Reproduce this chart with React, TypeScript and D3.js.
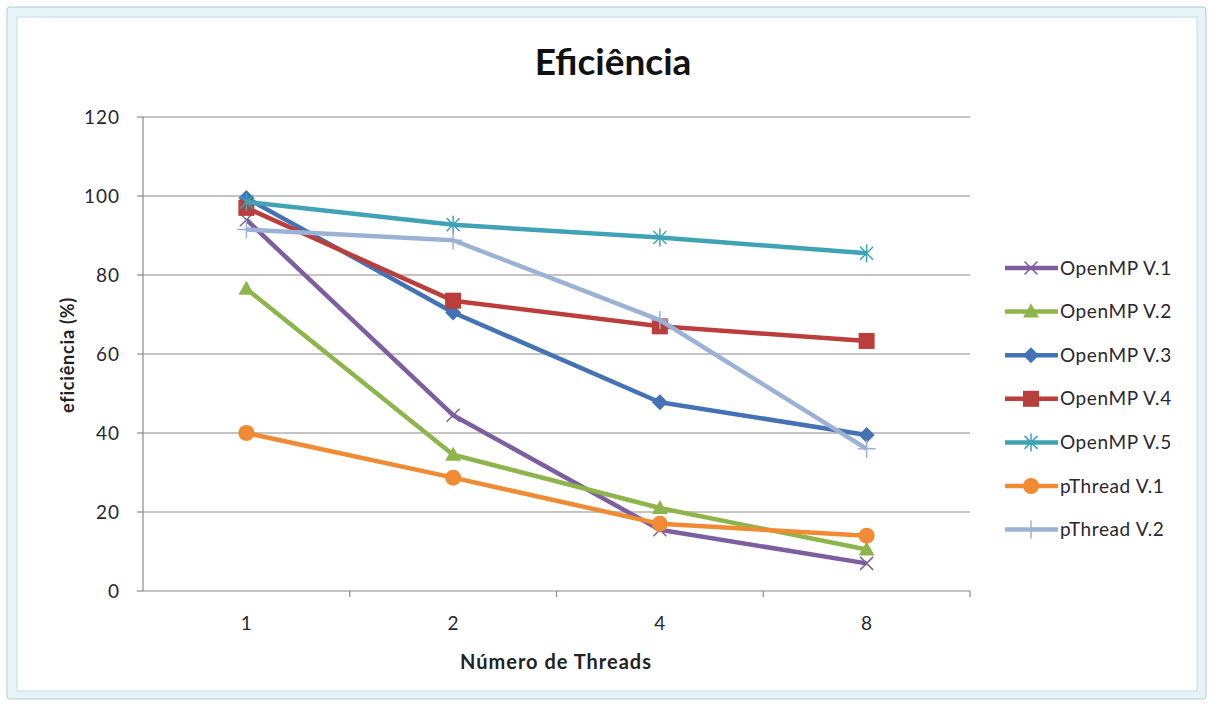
import React from "react";
import * as d3 from "d3";

const categories = ["1", "2", "4", "8"];
const yTicks = [0, 20, 40, 60, 80, 100, 120];
const seriesNames = ["OpenMP V.1", "OpenMP V.2", "OpenMP V.3", "OpenMP V.4", "OpenMP V.5", "pThread V.1", "pThread V.2"];
const openmpV1 = [94, 44.5, 15.5, 7];
const openmpV2 = [76.5, 34.5, 21, 10.5];
const openmpV3 = [99.5, 70.5, 47.8, 39.5];
const openmpV4 = [97, 73.5, 67, 63.3];
const openmpV5 = [98.5, 92.7, 89.5, 85.5];
const pthreadV1 = [40, 28.7, 17, 14];
const pthreadV2 = [91.5, 88.8, 68.6, 36];
const seriesValues = [openmpV1, openmpV2, openmpV3, openmpV4, openmpV5, pthreadV1, pthreadV2];
const colors = ["#7D5FA0", "#8DB54B", "#4472B4", "#BA3F3C", "#3FA3B5", "#F08A33", "#9BB2D6"];
const markers = ["x", "triangle", "diamond", "square", "asterisk", "circle", "plus"];

const W = 1213, H = 706;
const plot = { left: 143, right: 970, top: 117, bottom: 591 };
const font = "Lato, 'Open Sans', sans-serif";

function Marker({ type, x, y, color }: { type: string; x: number; y: number; color: string }) {
  const s = 6.5;
  switch (type) {
    case "x":
      return <path d={`M${x - s},${y - s}L${x + s},${y + s}M${x - s},${y + s}L${x + s},${y - s}`} stroke={color} strokeWidth={1.5} fill="none" />;
    case "triangle":
      return <path d={`M${x},${y - 8}L${x + 8},${y + 6}L${x - 8},${y + 6}Z`} fill={color} />;
    case "diamond":
      return <path d={`M${x},${y - 8}L${x + 8},${y}L${x},${y + 8}L${x - 8},${y}Z`} fill={color} />;
    case "square":
      return <rect x={x - 8} y={y - 8} width={16} height={16} fill={color} />;
    case "asterisk":
      return <path d={`M${x - s},${y - s}L${x + s},${y + s}M${x - s},${y + s}L${x + s},${y - s}M${x},${y - 9}L${x},${y + 9}`} stroke={color} strokeWidth={1.5} fill="none" />;
    case "circle":
      return <circle cx={x} cy={y} r={8} fill={color} />;
    case "plus":
      return <path d={`M${x - 9},${y}L${x + 9},${y}M${x},${y - 9}L${x},${y + 9}`} stroke={color} strokeWidth={1.5} fill="none" />;
  }
  return null;
}

export default function App() {
  const x = d3.scaleBand().domain(categories).range([plot.left, plot.right]);
  const y = d3.scaleLinear().domain([0, 120]).range([plot.bottom, plot.top]);
  const cx = (c: string) => (x(c) as number) + x.bandwidth() / 2;
  const line = d3.line<[number, number]>().x((d) => d[0]).y((d) => d[1]);
  const boundaries = categories.slice(1).map((c) => x(c) as number).concat([plot.right]);
  const legendX = 1005;
  const legendY0 = 268;
  const legendStep = 43.6;

  return (
    <svg width={W} height={H} style={{ position: "absolute", left: 0, top: 0 }} xmlns="http://www.w3.org/2000/svg">
      <rect x={0} y={0} width={W} height={H} fill="#ffffff" />
      <rect x={7} y={7} width={1199} height={692} fill="#e6f3f7" stroke="#a8cfdc" strokeWidth={1} rx={3} />
      <rect x={17} y={17} width={1180} height={674} fill="#ffffff" stroke="#c2dde6" strokeWidth={1} />
      {yTicks.filter((t) => t > 0).map((t) => (
        <line key={t} x1={plot.left} x2={plot.right} y1={y(t)} y2={y(t)} stroke="#8a8a8a" strokeWidth={1.2} />
      ))}
      <line x1={plot.left} x2={plot.left} y1={plot.top} y2={plot.bottom} stroke="#8a8a8a" strokeWidth={1.2} />
      <line x1={plot.left} x2={plot.right} y1={plot.bottom} y2={plot.bottom} stroke="#8a8a8a" strokeWidth={1.2} />
      {yTicks.map((t) => (
        <g key={t}>
          <line x1={plot.left - 6} x2={plot.left} y1={y(t)} y2={y(t)} stroke="#8a8a8a" strokeWidth={1.2} />
          <text x={plot.left - 23} y={y(t)} dy="0.35em" textAnchor="end" fontFamily={font} fontSize={19} letterSpacing={1} fill="#2a2630">{t}</text>
        </g>
      ))}
      {boundaries.map((b, i) => (
        <line key={i} x1={b} x2={b} y1={plot.bottom} y2={plot.bottom + 6} stroke="#8a8a8a" strokeWidth={1.2} />
      ))}
      {categories.map((c) => (
        <text key={c} x={cx(c)} y={630} textAnchor="middle" fontFamily={font} fontSize={19} fill="#2a2630">{c}</text>
      ))}
      <text x={613} y={75} textAnchor="middle" fontFamily={font} fontWeight="bold" fontSize={37} fill="#111">Eficiência</text>
      <text x={556} y={669} textAnchor="middle" fontFamily={font} fontWeight="bold" fontSize={20} letterSpacing={1} fill="#222">Número de Threads</text>
      <text transform={`translate(74,355) rotate(-90)`} textAnchor="middle" fontFamily={font} fontWeight="bold" fontSize={18} letterSpacing={0.8} fill="#222">eficiência (%)</text>
      {seriesValues.map((vals, i) => {
        const pts: [number, number][] = vals.map((v, j) => [cx(categories[j]), y(v)]);
        return (
          <g key={i}>
            <path d={line(pts) as string} fill="none" stroke={colors[i]} strokeWidth={4.5} strokeLinejoin="round" />
            {pts.map((p, j) => (
              <Marker key={j} type={markers[i]} x={p[0]} y={p[1]} color={colors[i]} />
            ))}
          </g>
        );
      })}
      {seriesNames.map((n, i) => {
        const ly = legendY0 + i * legendStep;
        return (
          <g key={n}>
            <line x1={legendX} x2={legendX + 53} y1={ly} y2={ly} stroke={colors[i]} strokeWidth={4.5} />
            <Marker type={markers[i]} x={legendX + 26} y={ly} color={colors[i]} />
            <text x={legendX + 55} y={ly} dy="0.35em" fontFamily={font} fontSize={19} letterSpacing={0.6} fill="#2a2630">{n}</text>
          </g>
        );
      })}
    </svg>
  );
}
